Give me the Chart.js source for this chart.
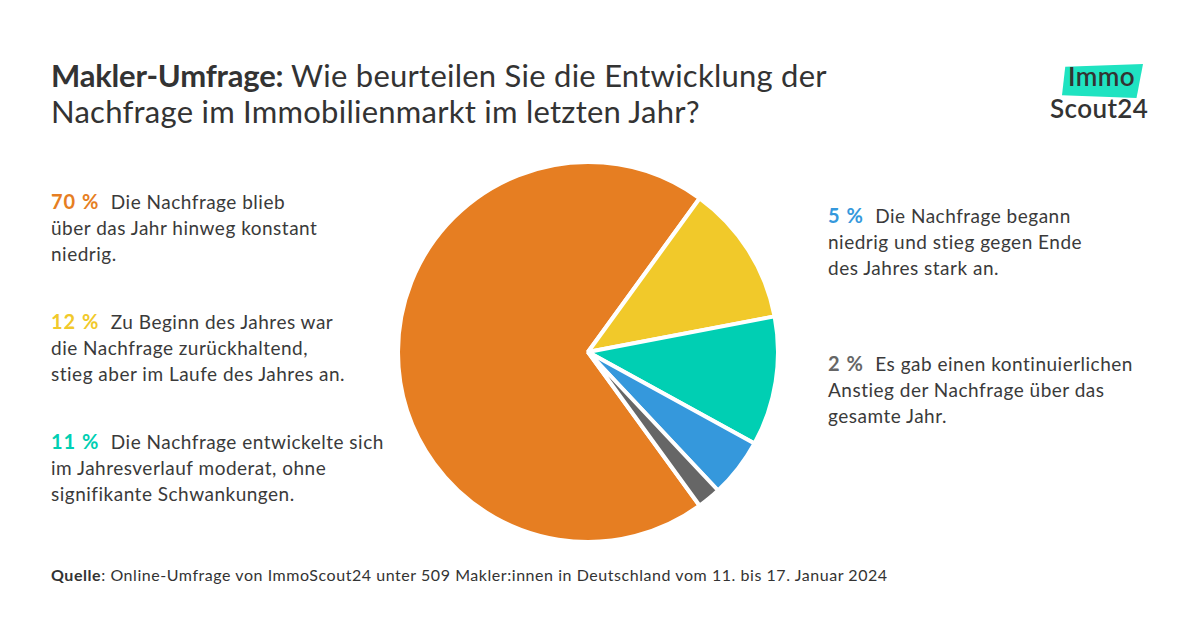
<!DOCTYPE html>
<html>
<head>
<meta charset="utf-8">
<script src="https://cdn.jsdelivr.net/npm/chart.js@4"></script>
<style>
  body { margin: 0; width: 1200px; height: 630px; background: #fff; font-family: Lato, "Open Sans", sans-serif; color: #333; position: relative; overflow: hidden; }
  #title { position: absolute; left: 51px; top: 57px; font-size: 31px; line-height: 36px; color: #333; letter-spacing: 0.25px; }
  #title b { font-weight: 700; letter-spacing: -0.2px; }
  .note { position: absolute; font-size: 19px; line-height: 26px; color: #3a3a3a; letter-spacing: 0.5px; }
  .note .pct { font-size: 20px; font-weight: 700; letter-spacing: 1px; margin-right: 6px; }
  #source { position: absolute; left: 51px; top: 565px; font-size: 16px; letter-spacing: 0.55px; color: #333; }
  #chartBox { position: absolute; left: 396px; top: 160px; width: 384px; height: 384px; }
  #logo { position: absolute; left: 1048px; top: 62px; width: 110px; height: 64px; }
  #logo .bg { position: absolute; left: 14px; top: 2px; width: 81px; height: 34px; background: #1fe3c1; clip-path: polygon(4% 8%, 100% 0%, 92% 100%, 0% 92%); }
  #logo .txt { position: absolute; left: 2px; top: -2px; font-size: 26px; line-height: 32px; font-weight: 600; color: #333; letter-spacing: 0.4px; white-space: nowrap; }
  #logo .txt span { padding-left: 18px; }
</style>
</head>
<body>
<div id="title"><b>Makler-Umfrage:</b> Wie beurteilen Sie die Entwicklung der<br>Nachfrage im Immobilienmarkt im letzten Jahr?</div>

<div id="logo"><div class="bg"></div><div class="txt"><span>Immo</span><br>Scout24</div></div>

<div id="chartBox"><canvas id="pie"></canvas></div>

<div id="notes"></div>

<div id="source"><b>Quelle</b>: Online-Umfrage von ImmoScout24 unter 509 Makler:innen in Deutschland vom 11. bis 17. Januar 2024</div>

<script>
// data
const labels = [
    "Die Nachfrage blieb<br>über das Jahr hinweg konstant<br>niedrig.",
    "Zu Beginn des Jahres war<br>die Nachfrage zurückhaltend,<br>stieg aber im Laufe des Jahres an.",
    "Die Nachfrage entwickelte sich<br>im Jahresverlauf moderat, ohne<br>signifikante Schwankungen.",
    "Die Nachfrage begann<br>niedrig und stieg gegen Ende<br>des Jahres stark an.",
    "Es gab einen kontinuierlichen<br>Anstieg der Nachfrage über das<br>gesamte Jahr."
];
const values = [70, 12, 11, 5, 2];
const colors = ["#e67e22", "#f1c92a", "#00cfb3", "#3598dc", "#666666"];

// note positions (left, top)
const notePos = [[51, 188], [51, 308], [51, 428], [828, 202], [828, 350]];

const notes = document.getElementById("notes");
labels.forEach((text, i) => {
    const div = document.createElement("div");
    div.className = "note";
    div.style.left = notePos[i][0] + "px";
    div.style.top = notePos[i][1] + "px";
    div.innerHTML = `<span class="pct" style="color:${colors[i]}">${values[i]} %</span> ${text}`;
    notes.appendChild(div);
});

new Chart(document.getElementById("pie"), {
    type: "pie",
    data: {
        labels: labels.map(l => l.replace(/<br>/g, " ")),
        datasets: [{
            data: values,
            backgroundColor: colors,
            borderColor: "#ffffff",
            borderWidth: 4
        }]
    },
    options: {
        responsive: true,
        maintainAspectRatio: false,
        animation: false,
        rotation: 144,
        layout: { padding: 0 },
        plugins: {
            legend: { display: false },
            tooltip: { enabled: false }
        }
    }
});
</script>
</body>
</html>
